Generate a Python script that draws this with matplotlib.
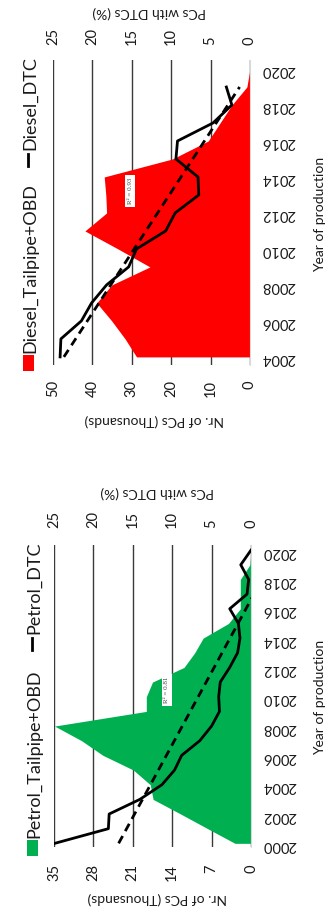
import numpy as np
import matplotlib
matplotlib.use("Agg")
import matplotlib.pyplot as plt
from matplotlib.patches import Rectangle
from matplotlib.lines import Line2D

plt.rcParams['font.family'] = ['Lato', 'DejaVu Sans']

# ---------------- data ----------------
diesel_years = list(range(2004, 2021))
diesel_tailpipe = [28.8, 31.7, 35.1, 38.9, 35.1, 25.4, 33.5, 41.9, 36.4, 36.6,
                   37.0, 19.7, 10.6, 7.6, 4.6, 0.8, 0.0]           # thousands
diesel_dtc_years = list(range(2004, 2020))
diesel_dtc = [24.1, 24.0, 21.4, 20.1, 18.2, 15.4, 14.4, 10.7, 9.5, 6.5,
              6.6, 9.4, 9.2, 4.7, 2.3, 3.0]                          # %

petrol_years = list(range(2000, 2021))
petrol_tailpipe = [2.85, 7.7, 12.5, 17.4, 17.9, 20.9, 26.3, 30.1, 34.9, 18.6,
                   18.6, 17.5, 11.9, 10.0, 8.5, 4.0, 1.9, 1.9, 1.9, 0.2, 0.0]
petrol_dtc_years = list(range(2000, 2021))
petrol_dtc = [24.9, 18.1, 18.0, 14.1, 11.3, 9.7, 8.8, 6.5, 5.0, 4.0, 4.1,
              3.9, 2.7, 1.7, 1.4, 1.6, 2.7, 0.5, 0.3, 1.3, 0.0]

diesel_year_ticks = list(range(2004, 2021, 2))
petrol_year_ticks = list(range(2000, 2021, 2))
diesel_count_ticks = [0, 10, 20, 30, 40, 50]
petrol_count_ticks = [0, 7, 14, 21, 28, 35]
pct_ticks = [0, 5, 10, 15, 20, 25]

diesel_labels = ["Diesel_Tailpipe+OBD", "Diesel_DTC"]
petrol_labels = ["Petrol_Tailpipe+OBD", "Petrol_DTC"]
diesel_r2 = "R² = 0.93"
petrol_r2 = "R² = 0.81"
label_count = "Nr. of PCs (Thousands)"
label_pct = "PCs with DTCs (%)"
label_year = "Year of production"

# ---------------- layout helpers ----------------
W, H = 328, 922
fig = plt.figure(figsize=(W / 100, H / 100), dpi=100)
TXT = '#1a1a1a'


def rect(l, t, r, b):
    return [l / W, 1 - b / H, (r - l) / W, (b - t) / H]


def fx(x):
    return x / W


def fy(y):
    return 1 - y / H


def panel(box, years, tail, color, dtc_years, dtc, count_ticks, year_ticks,
          ylim, pad_bottom, pad_top):
    ax = fig.add_axes(rect(*box))
    ax.fill_betweenx(years, 0, tail, color=color, lw=0, zorder=2)
    ax.set_xlim(count_ticks[-1], 0)
    ax.set_ylim(*ylim)
    ax.set_xticks(count_ticks)
    ax.grid(axis='x', color='#3a3a3a', lw=1.0)
    ax.grid(axis='y', visible=False)
    ax.set_axisbelow(True)
    ax.yaxis.tick_right()
    ax.set_yticks(year_ticks)
    ax.tick_params(axis='y', length=0, pad=8.5, labelrotation=180,
                   labelsize=10.5, labelcolor=TXT)
    ax.tick_params(axis='x', length=0, pad=pad_bottom, labelrotation=90,
                   labelsize=10.5, labelcolor=TXT)
    for s in ['top', 'bottom', 'left']:
        ax.spines[s].set_visible(False)
    ax.spines['right'].set_color('#d9d9d9')

    ax2 = ax.twiny()
    ax2.set_xlim(25, 0)
    ax2.set_xticks(pct_ticks)
    ax2.tick_params(axis='x', length=0, pad=pad_top, labelrotation=90,
                    labelsize=10.5, labelcolor=TXT)
    for s in ax2.spines.values():
        s.set_visible(False)
    ax2.plot(dtc, dtc_years, color='black', lw=2.0, zorder=3)
    coef = np.polyfit(dtc_years, dtc, 1)
    yy = np.array([dtc_years[0], dtc_years[-1]], dtype=float)
    ax2.plot(np.polyval(coef, yy), yy, color='black', lw=2.0,
             ls=(0, (3, 2)), zorder=3)
    return ax, ax2


# Diesel panel (top)
panel((53, 60, 250, 365), diesel_years, diesel_tailpipe, '#ff0000',
      diesel_dtc_years, diesel_dtc, diesel_count_ticks, diesel_year_ticks,
      (2003.55, 2020.5), 11, 10.5)

# Petrol panel (bottom)
panel((54, 545, 251, 847), petrol_years, petrol_tailpipe, '#00b050',
      petrol_dtc_years, petrol_dtc, petrol_count_ticks, petrol_year_ticks,
      (1999.75, 2020.35), 12.5, 12.5)

# axis titles
for (cx, cy) in [(149, 12), (157, 492)]:
    fig.text(fx(cx), fy(cy), label_pct, rotation=180, ha='center',
             va='center', fontsize=10, color=TXT)
for (cx, cy) in [(154, 420), (157, 898)]:
    fig.text(fx(cx), fy(cy), label_count, rotation=180, ha='center',
             va='center', fontsize=10, color=TXT)
for (cx, cy) in [(320, 214), (320, 697)]:
    fig.text(fx(cx), fy(cy), label_year, rotation=90, ha='center',
             va='center', fontsize=10, color=TXT)

# R² labels
for (cx, cy, txt) in [(130, 191, diesel_r2), (167, 690, petrol_r2)]:
    fig.text(fx(cx), fy(cy), txt, rotation=90, ha='center', va='center',
             fontsize=5, family='Liberation Serif', color='#404040',
             bbox=dict(facecolor='white', edgecolor='none', pad=2.0))


# legends
def legend(x, sq_top, sq_bot, txt_start, dash_bot, dash_top, dtc_start,
           labels, color):
    fig.add_artist(Rectangle((fx(x - 5.5), fy(sq_bot)), 11 / W,
                             (sq_bot - sq_top) / H, transform=fig.transFigure,
                             facecolor=color, edgecolor='none'))
    fig.text(fx(x + 2), fy(txt_start), labels[0], rotation=90,
             rotation_mode='anchor', ha='left', va='center', fontsize=13,
             color=TXT)
    fig.add_artist(Line2D([fx(x), fx(x)], [fy(dash_bot), fy(dash_top)],
                          transform=fig.transFigure, color='black', lw=2.0))
    fig.text(fx(x + 2), fy(dtc_start), labels[1], rotation=90,
             rotation_mode='anchor', ha='left', va='center', fontsize=13,
             color=TXT)


legend(28, 355, 371, 353, 166, 154, 150, diesel_labels, '#ff0000')
legend(32, 840, 856, 838, 650, 638, 634, petrol_labels, '#00b050')

fig.savefig("out.png", dpi=100)
